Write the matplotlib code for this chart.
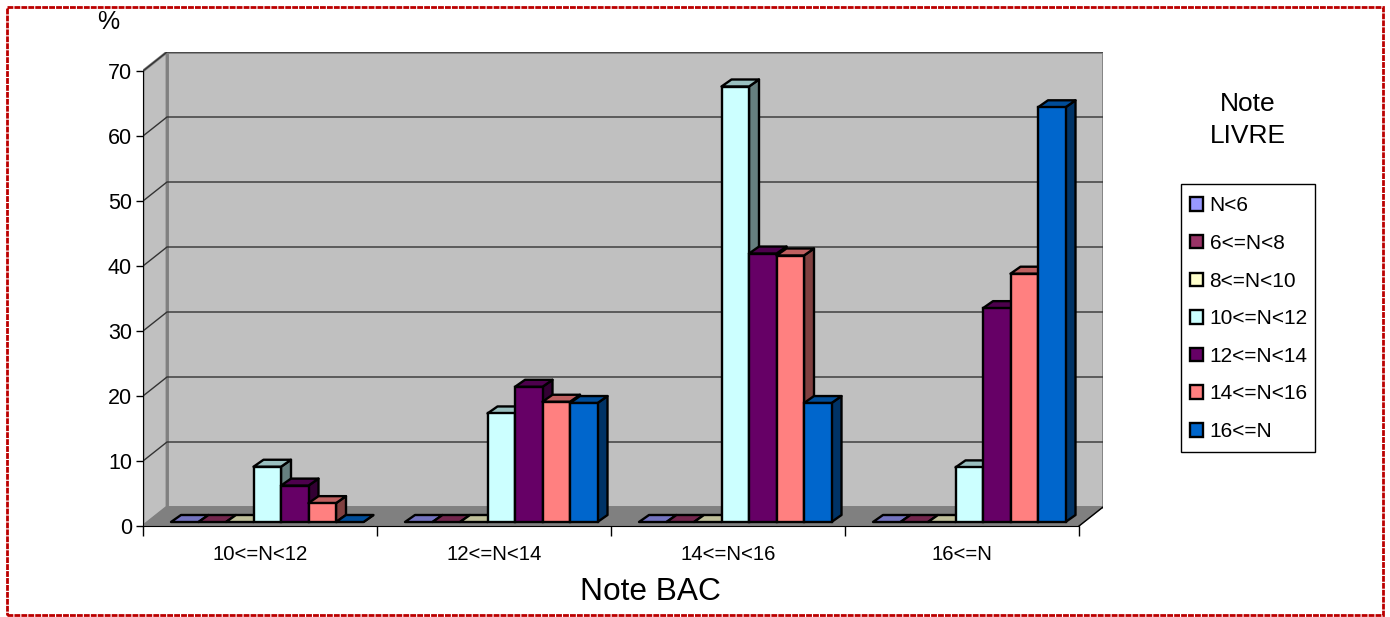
import matplotlib
matplotlib.use('Agg')
import matplotlib.pyplot as plt
from matplotlib.patches import Polygon, Patch, Rectangle

plt.rcParams['font.family'] = ['Liberation Sans', 'DejaVu Sans']

groupes = ['10<=N<12', '12<=N<14', '14<=N<16', '16<=N']
series = ['N<6', '6<=N<8', '8<=N<10', '10<=N<12', '12<=N<14', '14<=N<16', '16<=N']
v_n6 = [0, 0, 0, 0]
v_6_8 = [0, 0, 0, 0]
v_8_10 = [0, 0, 0, 0]
v_10_12 = [8.5, 16.7, 67, 8.4]
v_12_14 = [5.6, 20.8, 41.3, 32.9]
v_14_16 = [2.9, 18.5, 41, 38.2]
v_16 = [0, 18.3, 18.3, 63.8]
valeurs = [v_n6, v_6_8, v_8_10, v_10_12, v_12_14, v_14_16, v_16]
couleurs = ['#9999FF', '#993366', '#FFFFCC', '#CCFFFF', '#660066', '#FF8080', '#0066CC']
yticks = [0, 10, 20, 30, 40, 50, 60, 70]

W, H = 1390, 617
fig = plt.figure(figsize=(W / 100, H / 100), dpi=100)

# axes en pixels : face avant 143..1079 / 526..71, plus la profondeur
x0, x1, y0, y70 = 143, 1079, 526, 71
dx_mur, dy_mur = 24, 19
ux = (x1 - x0) / 4
uy = (y0 - y70) / 70
ax = fig.add_axes([x0 / W, 1 - y0 / H, (x1 - x0 + dx_mur) / W, (y0 - y70 + dy_mur) / H])
ax.set_xlim(0, 4 + dx_mur / ux)
ax.set_ylim(0, 70 + dy_mur / uy)
ax.patch.set_visible(False)

dmx, dmy = dx_mur / ux, dy_mur / uy
xmax = 4 + dmx
ymax = 70 + dmy

# murs et sol
ax.add_patch(Polygon([(dmx, dmy), (xmax, dmy), (xmax, ymax), (dmx, ymax)], fc='#C0C0C0', ec='#808080', lw=2, zorder=1))
ax.add_patch(Polygon([(0, 0), (dmx, dmy), (dmx, ymax), (0, 70)], fc='#C0C0C0', ec='#808080', lw=2, zorder=1))
ax.add_patch(Polygon([(0, 0), (4, 0), (xmax, dmy), (dmx, dmy)], fc='#808080', ec='#808080', lw=1, zorder=1))
ax.plot([4, xmax], [0, dmy], color='black', lw=1, zorder=2)

# grille
for t in yticks[1:]:
    ax.plot([0, dmx, xmax], [t, t + dmy, t + dmy], color='#333333', lw=1, zorder=2)


def assombrir(c, f):
    r, g, b = matplotlib.colors.to_rgb(c)
    return (r * f, g * f, b * f)


# barres
larg = 27.5 / ux
marge = 28 / ux
by = 4 / uy  # decalage du pied des barres
px, py = 10 / ux, 7 / uy  # profondeur des barres
z = 3
for g in range(len(groupes)):
    for s in range(len(series)):
        v = valeurs[s][g]
        c = couleurs[s]
        x = g + marge + s * larg
        xa = x + larg
        yb = by
        yh = by + v
        ax.add_patch(Polygon([(xa, yb), (xa + px, yb + py), (xa + px, yh + py), (xa, yh)],
                             fc=assombrir(c, 0.5), ec='black', lw=1.7, zorder=z, joinstyle='round'))
        ax.add_patch(Polygon([(x, yh), (xa, yh), (xa + px, yh + py), (x + px, yh + py)],
                             fc=assombrir(c, 0.75), ec='black', lw=1.7, zorder=z, joinstyle='round'))
        if v > 0:
            ax.bar(x, v, larg, bottom=by, align='edge', color=c, edgecolor='black', linewidth=1.7, zorder=z + 0.5)
        z += 1

# axes et graduations
for nom in ['top', 'right']:
    ax.spines[nom].set_visible(False)
ax.spines['left'].set_bounds(0, 70)
ax.spines['bottom'].set_bounds(0, 4)
ax.spines['left'].set_zorder(50)
ax.spines['bottom'].set_zorder(50)
ax.set_yticks(yticks)
ax.tick_params(axis='y', labelsize=15.5, length=5, width=1, pad=3)
ax.set_xticks([0, 1, 2, 3, 4])
ax.set_xticklabels([])
ax.set_xticks([0.5, 1.5, 2.5, 3.5], minor=True)
ax.set_xticklabels(groupes, minor=True, fontsize=14.7)
ax.tick_params(axis='x', which='major', length=7, width=1)
ax.tick_params(axis='x', which='minor', length=0, pad=14)

# textes
fig.text(650 / W, 1 - 592 / H, 'Note BAC', fontsize=22.8, ha='center', va='center')
fig.text(108 / W, 1 - 22 / H, '%', fontsize=18, ha='center', va='center')
fig.text(1247.5 / W, 1 - 104 / H, 'Note', fontsize=19, ha='center', va='center')
fig.text(1247.5 / W, 1 - 136 / H, 'LIVRE', fontsize=19, ha='center', va='center')

# legende : cadre dessine a part pour garder la taille de l'original
fig.add_artist(Rectangle((1181 / W, 1 - 452 / H), 134 / W, 268 / H, transform=fig.transFigure,
                         fc='white', ec='black', lw=1))
poignees = [Patch(fc=c, ec='black', lw=1.7) for c in couleurs]
leg = fig.legend(poignees, series, loc='upper left', bbox_to_anchor=(1179 / W, 1 - 185 / H),
                 fontsize=15, frameon=False,
                 handlelength=0.62, handleheight=0.62, handletextpad=0.3, labelspacing=0.893,
                 borderpad=0.55, borderaxespad=0)
leg.set_zorder(10)

# cadre rouge
fig.add_artist(Rectangle((7 / W, 1 - 615 / H), 1375.5 / W, 608 / H, transform=fig.transFigure, fill=False,
                         ec='#BB0000', lw=2, ls=(0, (2.1, 0.4))))

fig.savefig('out.png', dpi=100)
